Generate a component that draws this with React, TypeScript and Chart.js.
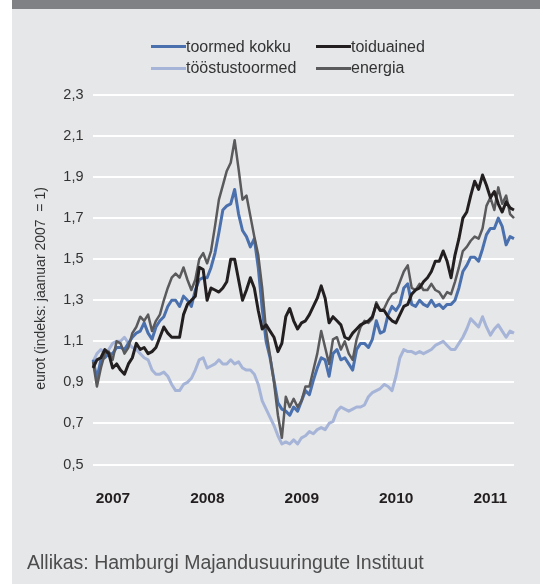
import React, { useEffect, useRef } from "react";
import { Chart, registerables } from "chart.js";

Chart.register(...registerables);

const FONT = '"Liberation Sans", Arial, Helvetica, sans-serif';

// half-monthly observation dates
const periods = [
  "2007-01-01","2007-01-16","2007-02-01","2007-02-16","2007-03-01","2007-03-16","2007-04-01","2007-04-16","2007-05-01","2007-05-16","2007-06-01","2007-06-16",
  "2007-07-01","2007-07-16","2007-08-01","2007-08-16","2007-09-01","2007-09-16","2007-10-01","2007-10-16","2007-11-01","2007-11-16","2007-12-01","2007-12-16",
  "2008-01-01","2008-01-16","2008-02-01","2008-02-16","2008-03-01","2008-03-16","2008-04-01","2008-04-16","2008-05-01","2008-05-16","2008-06-01","2008-06-16",
  "2008-07-01","2008-07-16","2008-08-01","2008-08-16","2008-09-01","2008-09-16","2008-10-01","2008-10-16","2008-11-01","2008-11-16","2008-12-01","2008-12-16",
  "2009-01-01","2009-01-16","2009-02-01","2009-02-16","2009-03-01","2009-03-16","2009-04-01","2009-04-16","2009-05-01","2009-05-16","2009-06-01","2009-06-16",
  "2009-07-01","2009-07-16","2009-08-01","2009-08-16","2009-09-01","2009-09-16","2009-10-01","2009-10-16","2009-11-01","2009-11-16","2009-12-01","2009-12-16",
  "2010-01-01","2010-01-16","2010-02-01","2010-02-16","2010-03-01","2010-03-16","2010-04-01","2010-04-16","2010-05-01","2010-05-16","2010-06-01","2010-06-16",
  "2010-07-01","2010-07-16","2010-08-01","2010-08-16","2010-09-01","2010-09-16","2010-10-01","2010-10-16","2010-11-01","2010-11-16","2010-12-01","2010-12-16",
  "2011-01-01","2011-01-16","2011-02-01","2011-02-16","2011-03-01","2011-03-16","2011-04-01","2011-04-16","2011-05-01","2011-05-16","2011-06-01","2011-06-16",
];

const yearTicks = ["2007", "2008", "2009", "2010", "2011"];

const toormedKokku = [
  1.01,0.92,1.01,1.02,1.04,1.04,1.07,1.07,1.06,1.09,
  1.12,1.14,1.15,1.19,1.14,1.11,1.17,1.20,1.22,1.27,
  1.30,1.30,1.27,1.32,1.30,1.27,1.35,1.40,1.41,1.41,
  1.46,1.53,1.63,1.74,1.76,1.77,1.84,1.72,1.64,1.61,
  1.56,1.60,1.46,1.26,1.10,1.02,0.91,0.80,0.77,0.76,
  0.74,0.78,0.76,0.81,0.86,0.84,0.91,0.97,1.02,1.01,
  0.93,1.04,1.06,1.01,1.02,0.99,0.96,1.06,1.09,1.09,
  1.07,1.11,1.20,1.14,1.15,1.23,1.27,1.25,1.28,1.36,
  1.38,1.28,1.27,1.30,1.28,1.27,1.30,1.27,1.28,1.26,
  1.28,1.28,1.30,1.36,1.44,1.47,1.51,1.51,1.49,1.55,
  1.62,1.65,1.65,1.70,1.66,1.57,1.61,1.60,
];

const toiduained = [
  0.97,1.01,1.02,1.06,1.04,0.97,0.99,0.96,0.94,0.99,
  1.02,1.09,1.06,1.07,1.04,1.05,1.07,1.12,1.17,1.14,
  1.12,1.12,1.12,1.23,1.28,1.30,1.32,1.46,1.45,1.30,
  1.36,1.35,1.34,1.36,1.39,1.50,1.50,1.40,1.30,1.35,
  1.41,1.36,1.25,1.16,1.18,1.15,1.12,1.05,1.09,1.22,
  1.26,1.20,1.16,1.19,1.20,1.23,1.27,1.31,1.37,1.31,
  1.19,1.22,1.20,1.18,1.12,1.11,1.14,1.16,1.18,1.19,
  1.20,1.22,1.28,1.25,1.25,1.22,1.20,1.19,1.23,1.27,
  1.28,1.33,1.35,1.36,1.39,1.41,1.44,1.49,1.49,1.54,
  1.49,1.41,1.52,1.60,1.70,1.73,1.81,1.88,1.84,1.91,
  1.86,1.80,1.83,1.77,1.73,1.78,1.75,1.74,
];

const toostustoormed = [
  1.00,1.04,1.06,1.04,1.06,1.09,1.10,1.10,1.12,1.09,
  1.07,1.06,1.04,1.02,1.01,0.96,0.94,0.94,0.95,0.93,
  0.89,0.86,0.86,0.89,0.90,0.92,0.96,1.01,1.02,0.97,
  0.98,0.99,1.01,0.99,0.99,1.01,0.99,1.00,0.97,0.96,
  0.96,0.94,0.89,0.81,0.77,0.73,0.69,0.64,0.60,0.61,
  0.60,0.62,0.60,0.63,0.64,0.66,0.65,0.67,0.68,0.67,
  0.70,0.71,0.76,0.78,0.77,0.76,0.77,0.78,0.78,0.79,
  0.83,0.85,0.86,0.87,0.89,0.88,0.86,0.93,1.02,1.06,
  1.05,1.05,1.04,1.05,1.04,1.05,1.06,1.08,1.09,1.10,
  1.08,1.06,1.06,1.09,1.12,1.16,1.21,1.19,1.17,1.22,
  1.17,1.13,1.16,1.18,1.15,1.12,1.15,1.14,
];

const energia = [
  1.00,0.88,0.97,1.04,1.05,1.01,1.10,1.09,1.04,1.07,
  1.14,1.17,1.22,1.20,1.23,1.15,1.20,1.23,1.30,1.36,
  1.41,1.43,1.41,1.46,1.40,1.35,1.40,1.50,1.53,1.48,
  1.54,1.66,1.79,1.86,1.93,1.97,2.08,1.94,1.79,1.81,
  1.71,1.61,1.52,1.36,1.15,1.03,0.90,0.74,0.63,0.83,
  0.78,0.82,0.78,0.81,0.88,0.88,0.96,1.04,1.15,1.07,
  0.99,1.11,1.12,1.06,1.10,1.04,1.01,1.11,1.17,1.20,
  1.19,1.21,1.29,1.25,1.26,1.30,1.33,1.34,1.39,1.44,
  1.47,1.36,1.35,1.38,1.35,1.35,1.38,1.35,1.34,1.31,
  1.34,1.33,1.39,1.46,1.54,1.56,1.59,1.61,1.60,1.65,
  1.76,1.80,1.74,1.85,1.77,1.81,1.72,1.70,
];

const Y_TITLE = "eurot (indeks: jaanuar 2007  = 1)";
const SOURCE = "Allikas: Hamburgi Majandusuuringute Instituut";

const COLORS = {
  kokku: "#4a70ae",
  toidu: "#231f20",
  toostus: "#a6b4d8",
  energia: "#5a5a5c",
};

const legendItems = [
  { label: "toormed kokku", color: COLORS.kokku, left: 151, top: 46.5 },
  { label: "toiduained", color: COLORS.toidu, left: 316, top: 46.5 },
  { label: "tööstustoormed", color: COLORS.toostus, left: 151, top: 68 },
  { label: "energia", color: COLORS.energia, left: 316, top: 68 },
];

const yTitlePlugin = {
  id: "yTitleCustom",
  afterDraw(chart: any) {
    const ctx = chart.ctx;
    ctx.save();
    ctx.translate(41.5, 288.5);
    ctx.rotate(-Math.PI / 2);
    ctx.font = `14px ${FONT}`;
    ctx.fillStyle = "#333333";
    ctx.textAlign = "center";
    ctx.textBaseline = "middle";
    ctx.fillText(Y_TITLE, 0, 0);
    ctx.restore();
  },
};

export default function App() {
  const ref = useRef<HTMLCanvasElement>(null);

  useEffect(() => {
    if (!ref.current) return;
    const chart = new Chart(ref.current, {
      type: "line",
      data: {
        labels: periods,
        datasets: [
          { label: "toiduained", data: toiduained, borderColor: COLORS.toidu, borderWidth: 3, order: 1 },
          { label: "energia", data: energia, borderColor: COLORS.energia, borderWidth: 2.5, order: 2 },
          { label: "toormed kokku", data: toormedKokku, borderColor: COLORS.kokku, borderWidth: 3, order: 3 },
          { label: "tööstustoormed", data: toostustoormed, borderColor: COLORS.toostus, borderWidth: 3, order: 4 },
        ],
      },
      options: {
        animation: false,
        responsive: false,
        layout: { padding: { left: 0, top: 95, right: 26, bottom: 19.5 } },
        elements: {
          point: { radius: 0 },
          line: { tension: 0, fill: false, borderJoinStyle: "round" },
        },
        plugins: { legend: { display: false }, tooltip: { enabled: false } },
        scales: {
          x: {
            type: "category",
            grid: { display: false },
            border: { display: false },
            afterBuildTicks: (s: any) => {
              s.ticks = s.ticks.filter((t: any) => {
                const p = periods[t.value];
                return p.endsWith("-01-01") && yearTicks.includes(p.slice(0, 4));
              });
            },
            afterFit: (s: any) => {
              s.height = 100;
            },
            ticks: {
              autoSkip: false,
              maxRotation: 0,
              minRotation: 0,
              align: "start",
              labelOffset: 2.7,
              padding: 17,
              color: "#231f20",
              font: { family: FONT, size: 15.5, weight: "bold" },
              callback: (v: any) => periods[v].slice(0, 4),
            },
          },
          y: {
            min: 0.5,
            max: 2.3,
            afterFit: (s: any) => {
              s.width = 93;
            },
            grid: { color: "#ffffff", lineWidth: 2, drawTicks: false },
            border: { display: false },
            ticks: {
              stepSize: 0.2,
              padding: 9.5,
              color: "#333333",
              font: { family: FONT, size: 14.5 },
              callback: (v: any) => Number(v).toFixed(1).replace(".", ","),
            },
          },
        },
      },
      plugins: [yTitlePlugin],
    } as any);
    return () => chart.destroy();
  }, []);

  return (
    <div style={{ position: "absolute", left: 0, top: 0, width: 540, height: 584, background: "#ffffff", fontFamily: FONT }}>
      <div style={{ position: "absolute", left: 12, top: 0, width: 528, height: 9, background: "#808184" }} />
      <div style={{ position: "absolute", left: 12, top: 9, width: 528, height: 575, background: "#e6e7e9" }} />
      <canvas ref={ref} width={540} height={584} style={{ position: "absolute", left: 0, top: 0, width: 540, height: 584 }} />
      {legendItems.map((it) => (
        <div
          key={it.label}
          style={{ position: "absolute", left: it.left, top: it.top - 10, height: 20, display: "flex", alignItems: "center", whiteSpace: "nowrap" }}
        >
          <div style={{ width: 35, height: 3, background: it.color }} />
          <span style={{ fontSize: 16, color: "#333333", lineHeight: "20px" }}>{it.label}</span>
        </div>
      ))}
      <div style={{ position: "absolute", left: 27, top: 553, fontSize: 19.5, lineHeight: "19.5px", color: "#4d4d4d", whiteSpace: "nowrap" }}>
        {SOURCE}
      </div>
    </div>
  );
}
